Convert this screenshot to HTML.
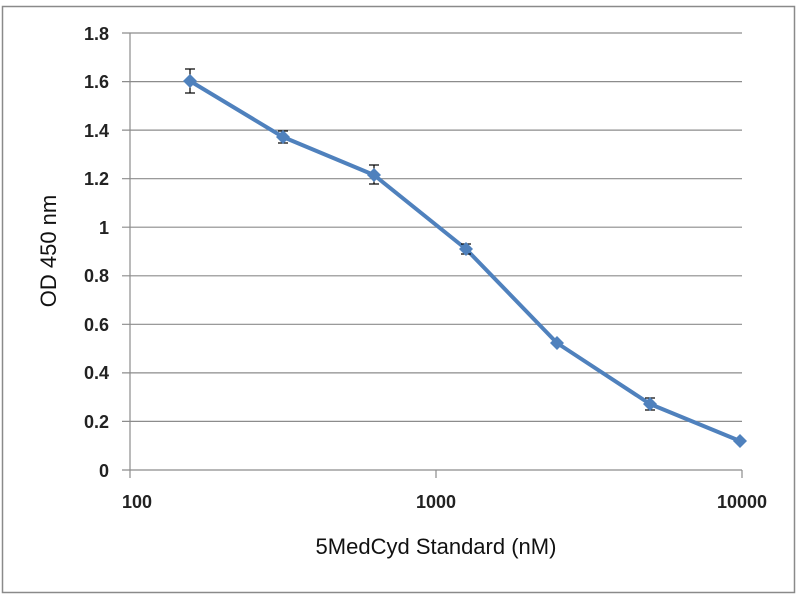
<!DOCTYPE html>
<html><head><style>body{margin:0;background:#fff}</style></head><body>
<svg width="800" height="600" xmlns="http://www.w3.org/2000/svg" font-family="Liberation Sans, sans-serif">
<rect x="0" y="0" width="800" height="600" fill="#fff"/>
<rect x="2.5" y="6.5" width="792" height="586" fill="none" stroke="#8a8a8a" stroke-width="1.5"/>
<g stroke="#8c8c8c" stroke-width="1.2">
<line x1="122" y1="33" x2="742" y2="33"/>
<line x1="122" y1="81.6" x2="742" y2="81.6"/>
<line x1="122" y1="130.1" x2="742" y2="130.1"/>
<line x1="122" y1="178.7" x2="742" y2="178.7"/>
<line x1="122" y1="227.2" x2="742" y2="227.2"/>
<line x1="122" y1="275.8" x2="742" y2="275.8"/>
<line x1="122" y1="324.3" x2="742" y2="324.3"/>
<line x1="122" y1="372.9" x2="742" y2="372.9"/>
<line x1="122" y1="421.4" x2="742" y2="421.4"/>
<line x1="122" y1="470" x2="742" y2="470"/>
<line x1="130" y1="33" x2="130" y2="478"/>
<line x1="436" y1="470" x2="436" y2="478"/>
<line x1="742" y1="470" x2="742" y2="478"/>
</g>
<g font-size="18" font-weight="bold" fill="#222" text-anchor="end">
<text x="109" y="40">1.8</text><text x="109" y="88">1.6</text><text x="109" y="137">1.4</text>
<text x="109" y="185">1.2</text><text x="109" y="234">1</text><text x="109" y="282">0.8</text>
<text x="109" y="331">0.6</text><text x="109" y="379">0.4</text><text x="109" y="428">0.2</text>
<text x="109" y="477">0</text>
</g>
<g font-size="18" font-weight="bold" fill="#222" text-anchor="middle">
<text x="137" y="508">100</text><text x="436" y="508">1000</text><text x="742" y="508">10000</text>
</g>
<text x="436" y="554" font-size="22" fill="#111" text-anchor="middle">5MedCyd Standard (nM)</text>
<text transform="translate(56,251) rotate(-90)" font-size="22" fill="#111" text-anchor="middle">OD 450 nm</text>
<polyline fill="none" stroke="#4f81bd" stroke-width="4" stroke-linejoin="round" points="190,81 283,137 374,175 466,249 557,343 650,404 740,441"/>
<g stroke="#000" stroke-width="1.2">
<line x1="190" y1="69" x2="190" y2="93"/><line x1="185" y1="69" x2="195" y2="69"/><line x1="185" y1="93" x2="195" y2="93"/>
<line x1="283" y1="131" x2="283" y2="143"/><line x1="278" y1="131" x2="288" y2="131"/><line x1="278" y1="143" x2="288" y2="143"/>
<line x1="374" y1="165" x2="374" y2="184"/><line x1="369" y1="165" x2="379" y2="165"/><line x1="369" y1="184" x2="379" y2="184"/>
<line x1="466" y1="244" x2="466" y2="254"/><line x1="461" y1="244" x2="471" y2="244"/><line x1="461" y1="254" x2="471" y2="254"/>
<line x1="650" y1="398" x2="650" y2="410"/><line x1="645" y1="398" x2="655" y2="398"/><line x1="645" y1="410" x2="655" y2="410"/>
</g>
<g fill="#4f81bd">
<path d="M190 74 L197 81 L190 88 L183 81Z"/><path d="M283 130 L290 137 L283 144 L276 137Z"/>
<path d="M374 168 L381 175 L374 182 L367 175Z"/><path d="M466 242 L473 249 L466 256 L459 249Z"/>
<path d="M557 336 L564 343 L557 350 L550 343Z"/><path d="M650 397 L657 404 L650 411 L643 404Z"/>
<path d="M740 434 L747 441 L740 448 L733 441Z"/>
</g>
</svg>
</body></html>
